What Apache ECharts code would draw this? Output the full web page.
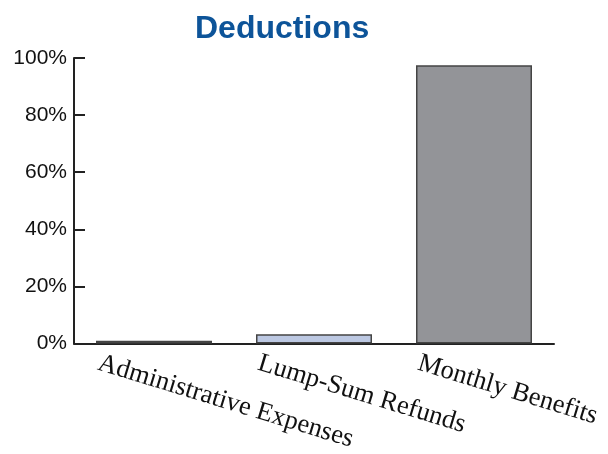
<!DOCTYPE html>
<html><head><meta charset="utf-8">
<script src="https://cdn.jsdelivr.net/npm/echarts@6/dist/echarts.min.js"></script>
<style>html,body{margin:0;padding:0;background:#fff}#c{width:608px;height:454px}</style>
</head><body><div id="c"></div>
<script>
const categories = ['Administrative Expenses', 'Lump-Sum Refunds', 'Monthly Benefits'];
const values = [1.0, 3.2, 97.5];
const barColors = ['#2a2a2a', '#bcc8e2', '#939498'];
const yTicks = [0, 20, 40, 60, 80, 100];

const chart = echarts.init(document.getElementById('c'));
chart.setOption({
  animation: false,
  title: {
    text: 'Deductions', left: 190, top: 8,
    textStyle: { fontFamily: 'Liberation Sans, Arial', fontWeight: 'bold', fontSize: 32, color: '#0d5499' }
  },
  grid: { left: 74, right: 54, top: 58, bottom: 109 },
  xAxis: {
    type: 'category', data: categories,
    axisLine: { lineStyle: { color: '#222', width: 2 } },
    axisTick: { inside: true, length: 7, lineStyle: { color: '#222', width: 2 } },
    axisLabel: {
      interval: 0, rotate: -17, margin: 36,
      padding: [0, 0, 0, -58],
      fontFamily: 'Liberation Serif, Times New Roman', fontSize: 26.5, color: '#111'
    }
  },
  yAxis: {
    type: 'value', min: 0, max: 100, interval: 20,
    splitLine: { show: false },
    axisLine: { show: true, lineStyle: { color: '#222', width: 2 } },
    axisTick: { show: true, inside: true, length: 11, lineStyle: { color: '#222', width: 2 } },
    axisLabel: {
      margin: 7, formatter: v => yTicks.includes(v) ? v + '%' : '',
      fontFamily: 'Liberation Sans, Arial', fontSize: 21, color: '#111'
    }
  },
  series: [{
    type: 'bar', barCategoryGap: '27.5%',
    data: values.map((v, i) => ({ value: v, itemStyle: { color: barColors[i] } })),
    itemStyle: { borderColor: '#444', borderWidth: 1.5 }
  }]
});
</script></body></html>
